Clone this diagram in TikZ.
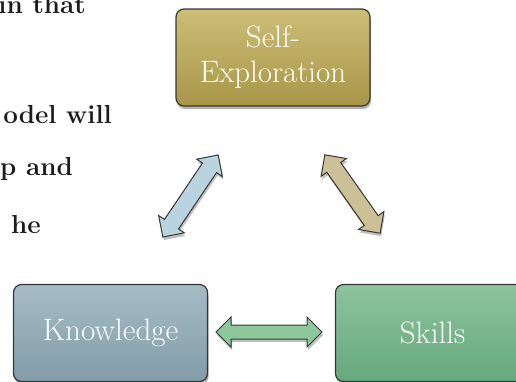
\documentclass[tikz,border=0pt]{standalone}
\usetikzlibrary{shapes.arrows,shadows}
\definecolor{selfTop}{HTML}{CDBD76}
\definecolor{selfBot}{HTML}{A89748}
\definecolor{knowTop}{HTML}{A5BCC5}
\definecolor{knowBot}{HTML}{829DA8}
\definecolor{skillTop}{HTML}{8CC49C}
\definecolor{skillBot}{HTML}{66A87C}
\definecolor{edge}{HTML}{363636}
\definecolor{arrBlue}{HTML}{B9D4DF}
\definecolor{arrTan}{HTML}{CBC096}
\definecolor{arrGreen}{HTML}{8DC89C}
\definecolor{bodytext}{HTML}{1C1C1C}
\tikzset{
  box/.style={rectangle, rounded corners=8pt, draw=edge, line width=1.2pt,
    minimum width=194pt, minimum height=97pt, inner sep=0pt, text=white,
    align=center, font=\fontsize{31}{35}\selectfont,
    drop shadow={shadow xshift=1pt, shadow yshift=-3pt, fill=black, opacity=0.3}},
  blockarrow/.style={double arrow, draw=edge, line width=1pt, inner xsep=0pt,
    inner ysep=8pt, double arrow head extend=7pt, double arrow tip angle=90,
    drop shadow={shadow xshift=1pt, shadow yshift=-3pt, fill=black, opacity=0.25}},
  para/.style={anchor=base east, inner sep=0pt, text=bodytext,
    font=\bfseries\fontsize{26}{30}\selectfont}
}
\begin{document}
\begin{tikzpicture}[x=1pt,y=-1pt]
\useasboundingbox (0,0) rectangle (516,381);
\clip (0,0) rectangle (516,381);
% paragraph fragments
\node[para] (t1) at (86,13) {in that};
\node[para] (t2) at (112,123) {odel will};
\node[para] (t3) at (73,175) {p and};
\node[para] (t4) at (41,233) {he};
% boxes
\node[box, top color=selfTop, bottom color=selfBot] (self) at (273,57.5) {Self-\\Exploration};
\node[box, top color=knowTop, bottom color=knowBot] (know) at (110.5,333) {Knowledge};
\node[box, top color=skillTop, bottom color=skillBot] (skill) at (432.5,333) {Skills};
% arrows
\node[blockarrow, fill=arrBlue, minimum height=99pt, rotate=56] (aL) at (190.5,196) {};
\node[blockarrow, fill=arrTan, minimum height=96pt, rotate=-54.8] (aR) at (352.5,194) {};
\node[blockarrow, fill=arrGreen, minimum height=106pt, inner ysep=6.5pt, double arrow head extend=8pt] (aB) at (269,332) {};
\end{tikzpicture}
\end{document}
